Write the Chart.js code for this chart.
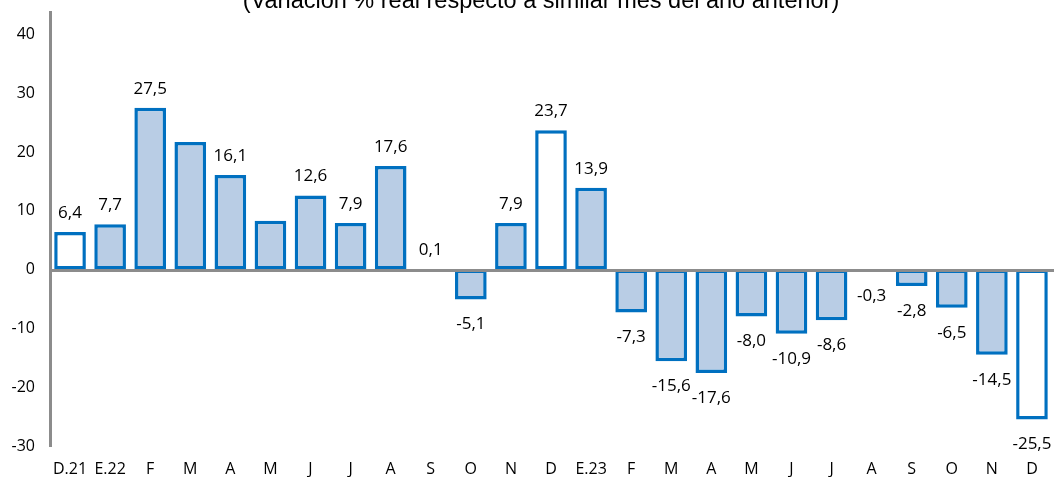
<!DOCTYPE html>
<html>
<head>
<meta charset="utf-8">
<script src="https://cdn.jsdelivr.net/npm/chart.js@4"></script>
<style>
  html, body { margin: 0; padding: 0; background: #fff; }
  #wrap { width: 1061px; height: 477px; position: relative; }
</style>
</head>
<body>
<div id="wrap"><canvas id="chart"></canvas></div>
<script>
// --- data ---
const months = ['D.21', 'E.22', 'F', 'M', 'A', 'M', 'J', 'J', 'A', 'S', 'O', 'N', 'D',
                'E.23', 'F', 'M', 'A', 'M', 'J', 'J', 'A', 'S', 'O', 'N', 'D'];
const variation = [6.4, 7.7, 27.5, 21.7, 16.1, 8.3, 12.6, 7.9, 17.6, 0.1, -5.1, 7.9, 23.7,
                   13.9, -7.3, -15.6, -17.6, -8.0, -10.9, -8.6, -0.3, -2.8, -6.5, -14.5, -25.5];
// 1 = value label shown on the bar
const showLabel = [1, 1, 1, 0, 1, 0, 1, 1, 1, 1, 1, 1, 1,
                   1, 1, 1, 1, 1, 1, 1, 1, 1, 1, 1, 1];
// December bars are drawn hollow
const hollow = [1, 0, 0, 0, 0, 0, 0, 0, 0, 0, 0, 0, 1,
                0, 0, 0, 0, 0, 0, 0, 0, 0, 0, 0, 1];
const yTicks = [-30, -20, -10, 0, 10, 20, 30, 40];
const titleText = '(Variación % real respecto a similar mes del año anterior)';

const FONT = "'Open Sans', sans-serif";

// zero line over the bars, then value labels outside the bar end
const barLabels = {
    id: 'barLabels',
    afterDatasetsDraw(chart) {
        const ctx = chart.ctx;
        const area = chart.chartArea;
        const y0 = Math.round(chart.scales.y.getPixelForValue(0));
        ctx.save();
        ctx.strokeStyle = '#8C8C8C';
        ctx.lineWidth = 3;
        ctx.beginPath();
        ctx.moveTo(area.left, y0 + 0.5);
        ctx.lineTo(area.right + 2, y0 + 0.5);
        ctx.stroke();

        const meta = chart.getDatasetMeta(0);
        ctx.font = '17px ' + FONT;
        ctx.fillStyle = '#000';
        ctx.textAlign = 'center';
        ctx.textBaseline = 'middle';
        meta.data.forEach((bar, i) => {
            if (!showLabel[i]) return;
            const v = variation[i];
            const txt = v.toFixed(1).replace('.', ',');
            const y = v >= 0 ? bar.y - 19 : bar.y + 25;
            ctx.fillText(txt, bar.x, y);
        });
        ctx.restore();
    }
};

// title, partly above the top edge like the source
const cutTitle = {
    id: 'cutTitle',
    afterDraw(chart) {
        const ctx = chart.ctx;
        ctx.save();
        ctx.font = "23.5px 'Liberation Sans', Arial, sans-serif";
        ctx.fillStyle = '#000';
        ctx.textAlign = 'center';
        ctx.textBaseline = 'alphabetic';
        ctx.fillText(titleText, 541, 7.5);
        ctx.restore();
    }
};

new Chart(document.getElementById('chart'), {
    type: 'bar',
    data: {
        labels: months,
        datasets: [{
            data: variation,
            backgroundColor: hollow.map(h => h ? '#FFFFFF' : '#B9CDE5'),
            borderColor: '#0070C0',
            borderWidth: 3.5,
            borderSkipped: false,
            categoryPercentage: 1,
            barPercentage: 0.79
        }]
    },
    options: {
        responsive: true,
        maintainAspectRatio: false,
        animation: false,
        layout: { padding: { left: 0, right: 9, top: 12, bottom: 0 } },
        plugins: {
            legend: { display: false },
            tooltip: { enabled: false },
            title: { display: false }
        },
        scales: {
            x: {
                grid: { display: false },
                border: { display: false },
                ticks: {
                    color: '#000',
                    font: { family: FONT, size: 16 },
                    padding: 6,
                    maxRotation: 0,
                    autoSkip: false
                },
                afterFit(scale) {
                    scale.height = 31;
                    scale.paddingLeft = 0;
                    scale.paddingRight = 0;
                }
            },
            y: {
                min: -30,
                max: 43.8,
                border: { display: true, color: '#8C8C8C', width: 3 },
                grid: { display: false, drawTicks: false },
                ticks: {
                    color: '#000',
                    font: { family: FONT, size: 16 },
                    padding: 15
                },
                afterBuildTicks(scale) {
                    scale.ticks = yTicks.map(v => ({ value: v }));
                },
                afterFit(scale) {
                    scale.width = 50;
                    scale.paddingTop = 0;
                    scale.paddingBottom = 0;
                }
            }
        }
    },
    plugins: [barLabels, cutTitle]
});
</script>
</body>
</html>
